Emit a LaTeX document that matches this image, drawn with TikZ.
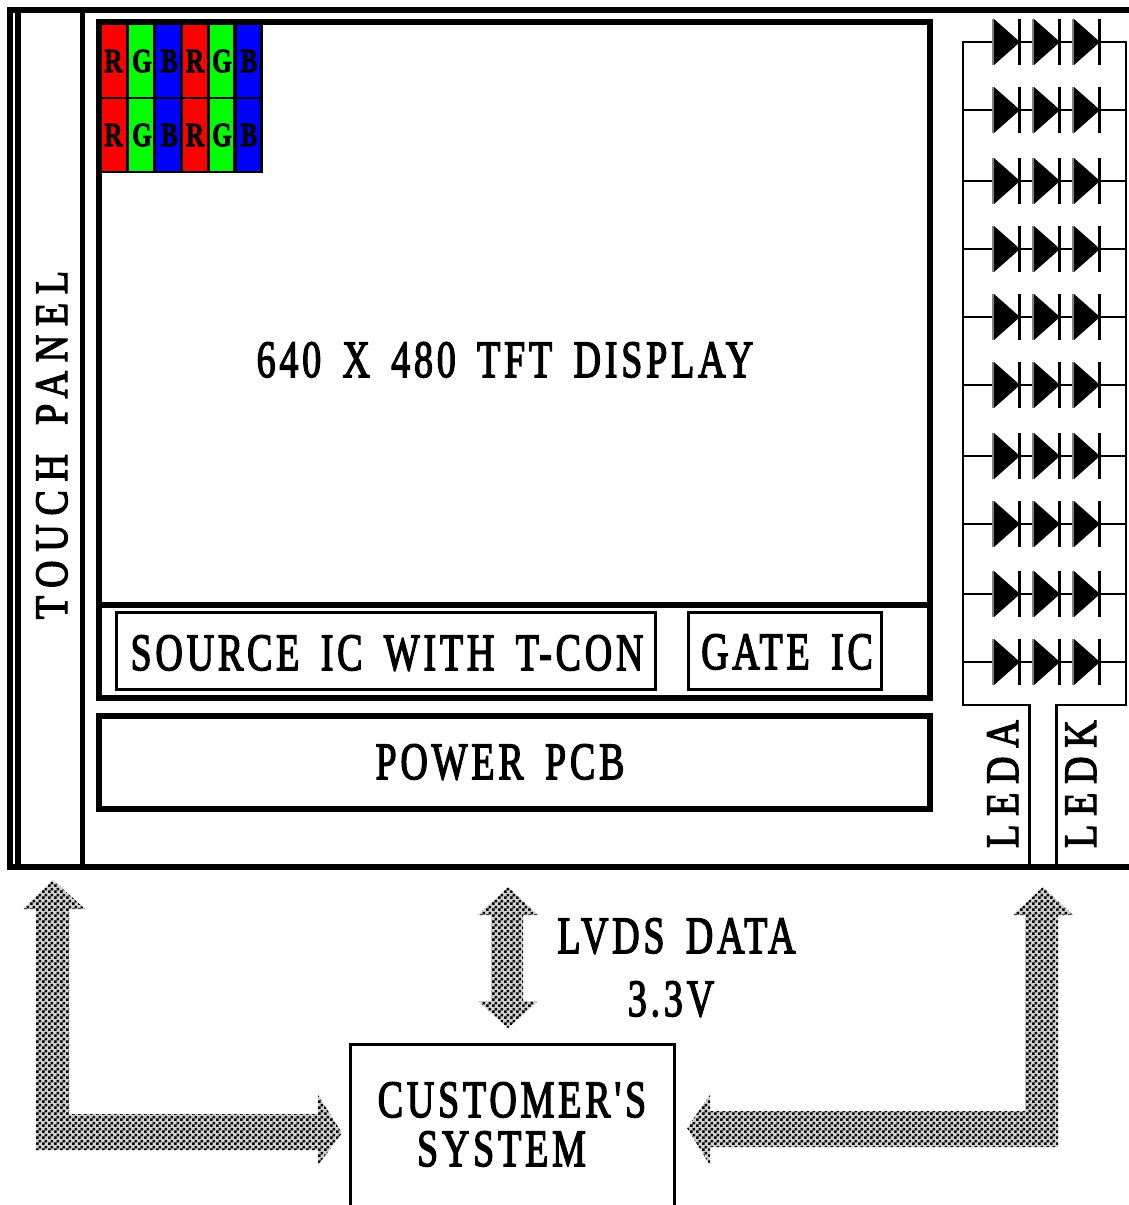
\documentclass[tikz,border=0pt]{standalone}
\usepackage{fontspec}
\setmainfont{Liberation Serif}
\newfontfamily\labA{Liberation Serif}[LetterSpace=10,WordSpace=1.6,FakeBold=3]
\newfontfamily\labB{Liberation Serif}[LetterSpace=23,WordSpace=1.6,FakeBold=3]
\newfontfamily\labC{Liberation Serif}[BoldFeatures={FakeBold=3}]
\usetikzlibrary{patterns}
\pgfdeclarepatternformonly{checker}{\pgfqpoint{0pt}{0pt}}{\pgfqpoint{6pt}{6pt}}{\pgfqpoint{6pt}{6pt}}{%
  \pgfpathrectangle{\pgfqpoint{0pt}{0pt}}{\pgfqpoint{3pt}{3pt}}%
  \pgfpathrectangle{\pgfqpoint{3pt}{3pt}}{\pgfqpoint{3pt}{3pt}}%
  \pgfusepath{fill}}
\tikzset{
  heavy/.style={line width=6pt},
  thinl/.style={line width=2.8pt},
  lbl/.style={inner sep=0pt,anchor=base,font=\fontsize{38}{38}\labA,yscale=1.38},
  vlbl/.style={rotate=90,inner sep=0pt,anchor=base,font=\fontsize{38}{38}\labB,yscale=1.22},
  cell/.style={minimum width=27pt,minimum height=74pt,inner sep=0pt},
  celltxt/.style={inner sep=0pt,anchor=base,font=\fontsize{25}{25}\labC\bfseries,yscale=1.35,text=black},
  hatch/.style={preaction={fill=black!18},pattern=checker,pattern color=black},
  tri/.style={fill=black,draw=none},
}
\begin{document}
\begin{tikzpicture}[x=1pt,y=-1pt]
\useasboundingbox (0,0) rectangle (1129,1205);
\fill[white] (0,0) rectangle (1129,1205);
% outer frame
\coordinate (tl) at (10,10);
\coordinate (tr) at (1129,10);
\coordinate (bl) at (10,867);
\coordinate (br) at (1129,867);
\draw[heavy] (tr) -- (tl) -- (bl) -- (br);
\draw[heavy] (18,10) -- (18,867);
\draw[line width=5pt] (82.5,10) -- (82.5,867);
\node[vlbl] (touch) at (67,445) {TOUCH PANEL};
% display
\node[draw,heavy,minimum width=831pt,minimum height=675.5pt,inner sep=0pt] (disp) at (514,359.75) {};
\draw[heavy] (98.5,605) -- (929.5,605);
\node[lbl] (title) at (505,377) {640 X 480 TFT DISPLAY};
\node[draw,thinl,minimum width=539pt,minimum height=77pt,inner sep=0pt] (src) at (386,651) {};
\node[lbl] at (387,670) {SOURCE IC WITH T-CON};
\node[draw,thinl,minimum width=193pt,minimum height=77pt,inner sep=0pt] (gate) at (785,651) {};
\node[lbl] at (787,669) {GATE IC};
\node[draw,heavy,minimum width=831pt,minimum height=93pt,inner sep=0pt] (pcb) at (514,762) {};
\node[lbl] at (500,779) {POWER PCB};
% RGB cells
\foreach \r/\y in {0/61,1/135}{
 \foreach \i/\x/\c in {0/114/red,1/141/green,2/168/blue,3/195/red,4/222/green,5/248/blue}{
  \node[cell,fill=\c] (c\r\i) at (\x,\y) {};
 }}
\foreach \r/\y in {0/61,1/135}{
 \foreach \i/\x in {0/114,1/141,2/168,3/195,4/222,5/248}{
  \node[cell,draw=black,line width=2.8pt] (d\r\i) at (\x,\y) {};
 }
 \foreach \x/\t in {113.5/R,142/G,169.5/B,195/R,222/G,249/B}{
  \node[celltxt] at (\x,\y+11) {\t};
 }}
% LED block
\coordinate (a0) at (963,42);
\coordinate (a1) at (1126,42);
\coordinate (a2) at (1126,705);
\coordinate (a3) at (1056.5,705);
\coordinate (a4) at (1056.5,867);
\coordinate (b3) at (1029.5,705);
\coordinate (b4) at (1029.5,867);
\coordinate (b2) at (963,705);
\draw[thinl] (b4) -- (b3) -- (b2) -- (a0) -- (a1) -- (a2) -- (a3) -- (a4);
\foreach \n/\y in {0/42,1/110,2/181,3/249,4/317,5/385,6/456,7/524,8/594,9/662}{
 \coordinate (l\n) at (963,\y);
 \coordinate (r\n) at (1126,\y);
 \draw[thinl] (l\n) -- (r\n);
 \foreach \x in {994,1034,1074}{
  \fill[gray] (\x-2,\y-23) rectangle (\x,\y+23);
  \fill[tri] (\x,\y-23) -- (\x+26,\y) -- (\x,\y+23) -- cycle;
  \draw[line width=2.2pt] (\x+25.5,\y-23) -- (\x+25.5,\y+23);
 }
}
\node[vlbl] at (1018,784) {LEDA};
\node[vlbl] at (1096,784) {LEDK};
% customer
\node[draw,thinl,minimum width=324pt,minimum height=200pt,inner sep=0pt] (cust) at (512.5,1144.5) {};
\node[lbl] at (512,1117) {CUSTOMER'S};
\node[lbl] at (501.5,1166) {SYSTEM};
\node[lbl] at (676.5,953) {LVDS DATA};
\node[lbl] at (671,1016) {3.3V};
% arrows
\fill[hatch] (53,880) -- (85,909) -- (69,909) -- (69,1114) -- (318,1114) -- (318,1095) -- (342,1133) -- (318,1165) -- (318,1150) -- (36,1150) -- (36,909) -- (23,909) -- cycle;
\fill[hatch] (508,887) -- (538,915) -- (523,915) -- (523,1001) -- (538,1001) -- (508,1028) -- (478,1001) -- (491,1001) -- (491,915) -- (478,915) -- cycle;
\fill[hatch] (1043,887) -- (1073,915) -- (1058,915) -- (1058,1147) -- (710,1147) -- (710,1165) -- (687,1128) -- (710,1095) -- (710,1111) -- (1025,1111) -- (1025,915) -- (1013,915) -- cycle;
\end{tikzpicture}
\end{document}
